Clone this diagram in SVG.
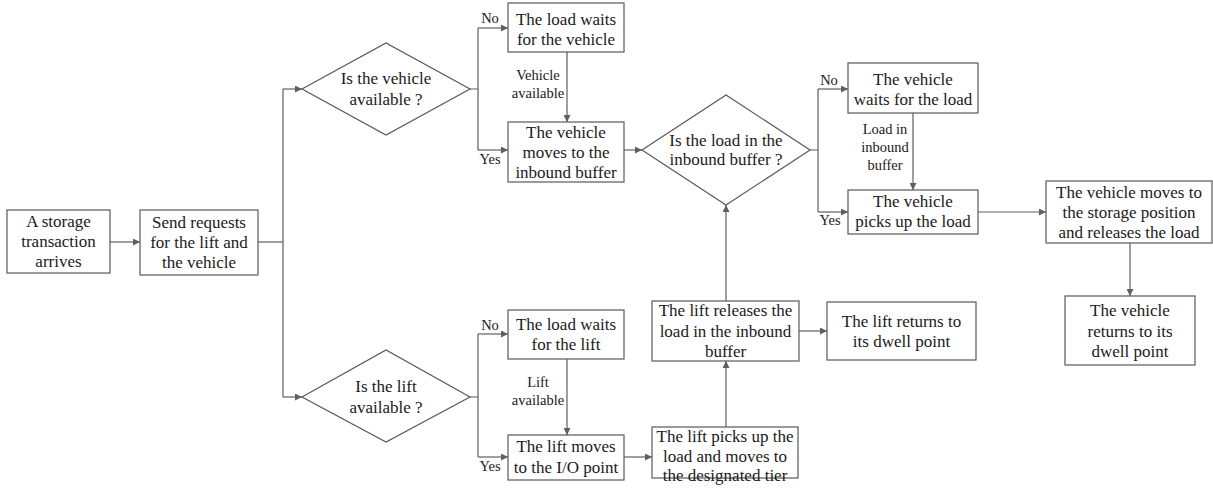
<svg xmlns="http://www.w3.org/2000/svg" width="1213" height="492" viewBox="0 0 1213 492">
<style>
.b{fill:#fff;stroke:#595959;stroke-width:1.2}
.t{font-family:"Liberation Serif","Times New Roman",serif;font-size:17px;fill:#1a1a1a;text-anchor:middle}
.l{font-family:"Liberation Serif","Times New Roman",serif;font-size:14.5px;fill:#1a1a1a;text-anchor:middle}
.c{fill:none;stroke:#5f5f5f;stroke-width:1.2}
</style>
<defs>
<marker id="a" viewBox="0 0 10 10" refX="10" refY="5" markerWidth="9" markerHeight="7" markerUnits="userSpaceOnUse" orient="auto">
<path d="M0,0L10,5L0,10z" fill="#5f5f5f"/>
</marker>
</defs>
<rect width="1213" height="492" fill="#fff"/>
<g id="connectors">
<path class="c" d="M110,242H140" marker-end="url(#a)"/>
<path class="c" d="M258,242H283"/>
<path class="c" d="M283,89V397"/>
<path class="c" d="M283,89H302" marker-end="url(#a)"/>
<path class="c" d="M283,397H302" marker-end="url(#a)"/>
<path class="c" d="M470,89H478M478,28V150"/>
<path class="c" d="M478,28H508" marker-end="url(#a)"/>
<path class="c" d="M478,150H508" marker-end="url(#a)"/>
<path class="c" d="M567,52V122" marker-end="url(#a)"/>
<path class="c" d="M624,150H642" marker-end="url(#a)"/>
<path class="c" d="M810,150H818M818,89V212"/>
<path class="c" d="M818,89H848" marker-end="url(#a)"/>
<path class="c" d="M818,212H848" marker-end="url(#a)"/>
<path class="c" d="M913,113V190" marker-end="url(#a)"/>
<path class="c" d="M978,212H1046" marker-end="url(#a)"/>
<path class="c" d="M1130,243V296" marker-end="url(#a)"/>
<path class="c" d="M470,397H478M478,334V457"/>
<path class="c" d="M478,334H508" marker-end="url(#a)"/>
<path class="c" d="M478,457H508" marker-end="url(#a)"/>
<path class="c" d="M567,359V435" marker-end="url(#a)"/>
<path class="c" d="M624,457H652" marker-end="url(#a)"/>
<path class="c" d="M726,427V361" marker-end="url(#a)"/>
<path class="c" d="M726,301V205" marker-end="url(#a)"/>
<path class="c" d="M799,331H827" marker-end="url(#a)"/>
<text class="l" x="490" y="23">No</text>
<text class="l" x="490" y="164">Yes</text>
<text class="l" x="538" y="80">Vehicle</text>
<text class="l" x="538" y="98">available</text>
<text class="l" x="829" y="85">No</text>
<text class="l" x="830" y="225">Yes</text>
<text class="l" x="885" y="134">Load in</text>
<text class="l" x="885" y="152">inbound</text>
<text class="l" x="885" y="170">buffer</text>
<text class="l" x="490" y="330">No</text>
<text class="l" x="490" y="471">Yes</text>
<text class="l" x="538" y="387">Lift</text>
<text class="l" x="538" y="405">available</text>
</g>
<g id="n1"><rect class="b" x="7" y="210" width="103" height="63"/>
<text class="t" x="58.5" y="227">A storage</text><text class="t" x="58.5" y="247">transaction</text><text class="t" x="58.5" y="267">arrives</text></g>
<g id="n2"><rect class="b" x="140" y="210" width="118" height="65"/>
<text class="t" x="199" y="228">Send requests</text><text class="t" x="199" y="248">for the lift and</text><text class="t" x="199" y="268">the vehicle</text></g>
<g id="d1"><path class="b" d="M302,89L386,43L470,89L386,135z"/>
<text class="t" x="386" y="84">Is the vehicle</text><text class="t" x="386" y="105">available ?</text></g>
<g id="n3"><rect class="b" x="508" y="3" width="116" height="49"/>
<text class="t" x="566" y="25">The load waits</text><text class="t" x="566" y="45">for the vehicle</text></g>
<g id="n4"><rect class="b" x="508" y="122" width="116" height="60"/>
<text class="t" x="566" y="138">The vehicle</text><text class="t" x="566" y="158">moves to the</text><text class="t" x="566" y="178">inbound buffer</text></g>
<g id="d2"><path class="b" d="M642,150L726,95L810,150L726,205z"/>
<text class="t" x="726" y="146">Is the load in the</text><text class="t" x="726" y="165">inbound buffer ?</text></g>
<g id="n5"><rect class="b" x="848" y="63" width="130" height="50"/>
<text class="t" x="913" y="85">The vehicle</text><text class="t" x="913" y="105">waits for the load</text></g>
<g id="n6"><rect class="b" x="848" y="190" width="130" height="44"/>
<text class="t" x="913" y="207">The vehicle</text><text class="t" x="913" y="227">picks up the load</text></g>
<g id="n7"><rect class="b" x="1046" y="181" width="166" height="62"/>
<text class="t" x="1129" y="198">The vehicle moves to</text><text class="t" x="1129" y="218">the storage position</text><text class="t" x="1129" y="238">and releases the load</text></g>
<g id="n8"><rect class="b" x="1065" y="296" width="130" height="69"/>
<text class="t" x="1130" y="316">The vehicle</text><text class="t" x="1130" y="337">returns to its</text><text class="t" x="1130" y="357">dwell point</text></g>
<g id="d3"><path class="b" d="M302,397L386,350L470,397L386,442z"/>
<text class="t" x="386" y="392">Is the lift</text><text class="t" x="386" y="413">available ?</text></g>
<g id="n9"><rect class="b" x="508" y="310" width="116" height="49"/>
<text class="t" x="566" y="330">The load waits</text><text class="t" x="566" y="350">for the lift</text></g>
<g id="n10"><rect class="b" x="508" y="435" width="116" height="45"/>
<text class="t" x="566" y="452">The lift moves</text><text class="t" x="566" y="473">to the I/O point</text></g>
<g id="n11"><rect class="b" x="652" y="301" width="147" height="60"/>
<text class="t" x="725.5" y="316">The lift releases the</text><text class="t" x="725.5" y="337">load in the inbound</text><text class="t" x="725.5" y="357">buffer</text></g>
<g id="n12"><rect class="b" x="827" y="302" width="149" height="58"/>
<text class="t" x="901.5" y="327">The lift returns to</text><text class="t" x="901.5" y="347">its dwell point</text></g>
<g id="n13"><rect class="b" x="652" y="427" width="146" height="51"/>
<text class="t" x="725" y="442">The lift picks up the</text><text class="t" x="725" y="462">load and moves to</text><text class="t" x="725" y="481">the designated tier</text></g>
</svg>
